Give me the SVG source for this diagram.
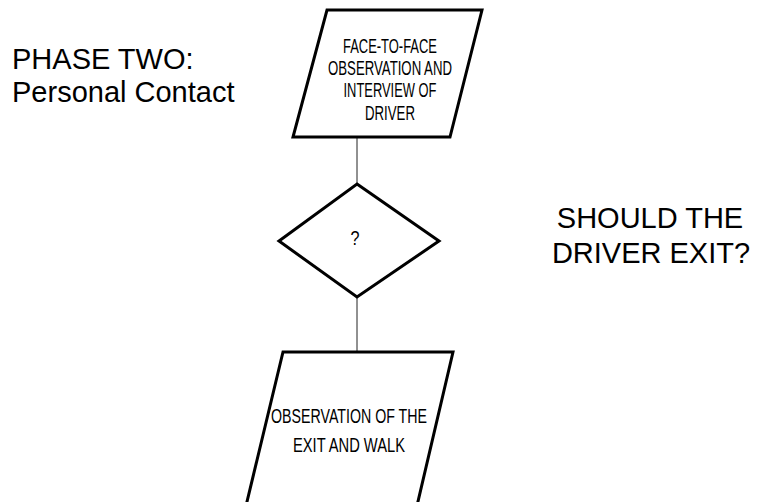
<svg xmlns="http://www.w3.org/2000/svg" width="757" height="502" viewBox="0 0 757 502">
<style>
.shape{fill:#fff;stroke:#000;stroke-width:3;stroke-linejoin:miter}
.conn{stroke:#222;stroke-width:1;fill:none}
.big{font-family:"Liberation Sans",Arial,sans-serif;font-size:29px;fill:#000}
.small{font-family:"Liberation Sans",Arial,sans-serif;font-size:20px;fill:#000;text-anchor:middle}
</style>
<rect width="757" height="502" fill="#fff"/>
<g id="connectors">
<line class="conn" x1="357" y1="137" x2="357" y2="184"/>
<line class="conn" x1="357" y1="297" x2="357" y2="352"/>
</g>
<g id="title">
<text class="big" x="12" y="69">PHASE TWO:</text>
<text class="big" x="12" y="102">Personal Contact</text>
</g>
<g id="question">
<text class="big" x="650" y="228" text-anchor="middle">SHOULD THE</text>
<text class="big" x="651" y="263" text-anchor="middle">DRIVER EXIT?</text>
</g>
<g id="node-interview">
<polygon class="shape" points="327,10 482,10 450,137 293,137"/>
<text class="small" x="390" y="53" textLength="94" lengthAdjust="spacingAndGlyphs">FACE-TO-FACE</text>
<text class="small" x="390" y="75" textLength="124" lengthAdjust="spacingAndGlyphs">OBSERVATION AND</text>
<text class="small" x="390" y="97" textLength="93" lengthAdjust="spacingAndGlyphs">INTERVIEW OF</text>
<text class="small" x="390" y="120" textLength="50" lengthAdjust="spacingAndGlyphs">DRIVER</text>
</g>
<g id="node-decision">
<polygon class="shape" points="357,184 439,241 357,297 279,241"/>
<text class="small" x="355" y="245" textLength="9" lengthAdjust="spacingAndGlyphs">?</text>
</g>
<g id="node-exit">
<polygon class="shape" points="283,352 453,352 416,510 245,510"/>
<text class="small" x="349" y="423" font-size="21" textLength="156" lengthAdjust="spacingAndGlyphs">OBSERVATION OF THE</text>
<text class="small" x="349" y="452" font-size="21" textLength="112" lengthAdjust="spacingAndGlyphs">EXIT AND WALK</text>
</g>
</svg>
